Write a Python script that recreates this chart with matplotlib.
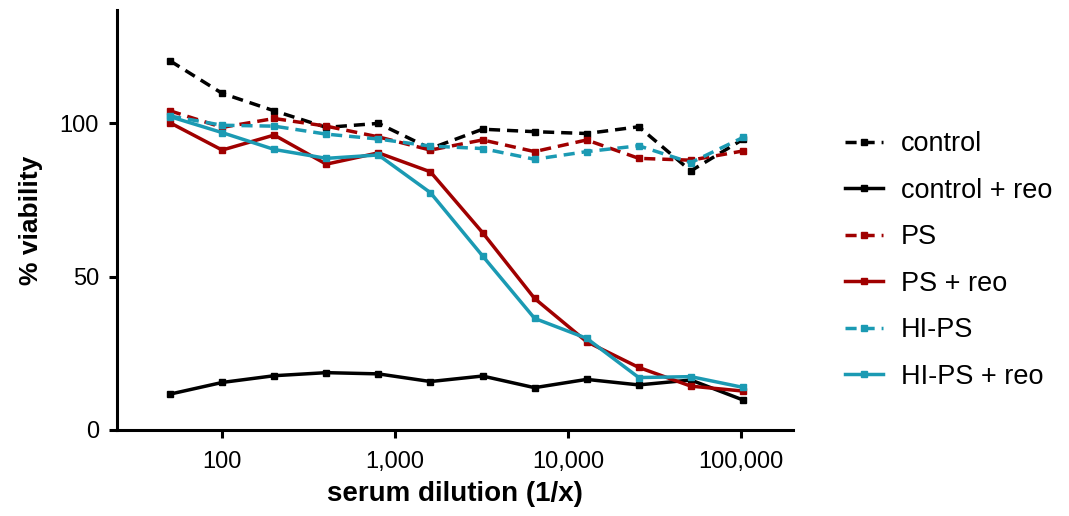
import matplotlib.pyplot as plt

plt.rcParams['font.family'] = ['Liberation Sans', 'DejaVu Sans']

# serum dilutions (2-fold series starting at 1:50)
dilution = [50, 100, 200, 400, 800, 1600, 3200, 6400, 12800, 25600, 51200, 102400]

control = [120.4, 109.8, 104.1, 98.7, 100.0, 91.8, 98.1, 97.3, 96.7, 98.9, 84.5, 94.8]
control_reo = [11.7, 15.5, 17.7, 18.7, 18.3, 15.8, 17.6, 13.8, 16.5, 14.7, 16.3, 9.8]
ps = [104.1, 98.7, 101.6, 99.1, 95.6, 91.3, 94.6, 90.8, 94.6, 88.6, 88.0, 91.0]
ps_reo = [100.2, 91.3, 96.2, 86.7, 90.4, 84.2, 64.4, 42.9, 28.8, 20.4, 14.3, 12.7]
hips = [102.4, 99.4, 99.1, 96.5, 94.9, 92.6, 91.8, 88.3, 90.8, 92.7, 87.2, 95.4]
hips_reo = [102.2, 97.0, 91.5, 88.6, 89.7, 77.4, 56.8, 36.4, 29.9, 17.1, 17.4, 13.9]

black = '#000000'
red = '#a00000'
teal = '#1b9ab3'

fig = plt.figure(figsize=(10.69, 5.16), dpi=100)
ax = fig.add_axes([0.1095, 0.1667, 0.6325, 0.814])

lw = 2.5
ms = 5
dash = (3.2, 2)

series = [
    ('control', control, black, True),
    ('control + reo', control_reo, black, False),
    ('PS', ps, red, True),
    ('PS + reo', ps_reo, red, False),
    ('HI-PS', hips, teal, True),
    ('HI-PS + reo', hips_reo, teal, False),
]
for label, vals, col, dashed in series:
    line, = ax.plot(dilution, vals, color=col, lw=lw, marker='s', ms=ms,
                    label=label)
    if dashed:
        line.set_dashes(dash)

ax.set_xscale('log')
ax.set_xlim(24.7, 200000)
ax.set_ylim(0, 137)
ax.set_xticks([100, 1000, 10000, 100000])
ax.set_xticklabels(['100', '1,000', '10,000', '100,000'])
ax.minorticks_off()
ax.set_yticks([0, 50, 100])

for s in ['top', 'right']:
    ax.spines[s].set_visible(False)
for s in ['left', 'bottom']:
    ax.spines[s].set_linewidth(2.2)
ax.tick_params(direction='out', length=6, width=2.2, labelsize=17, pad=7)
ax.tick_params(axis='x', pad=9)

ax.set_xlabel('serum dilution (1/x)', fontsize=20, fontweight='bold', labelpad=6)
ax.set_ylabel('% viability', fontsize=19, fontweight='bold', labelpad=12)

fig.legend(loc='upper left', bbox_to_anchor=(0.78, 0.767), frameon=False,
           fontsize=19.5, handlelength=1.4, handletextpad=0.68,
           labelspacing=0.76, borderaxespad=0)

fig.savefig('out.png', dpi=100)
